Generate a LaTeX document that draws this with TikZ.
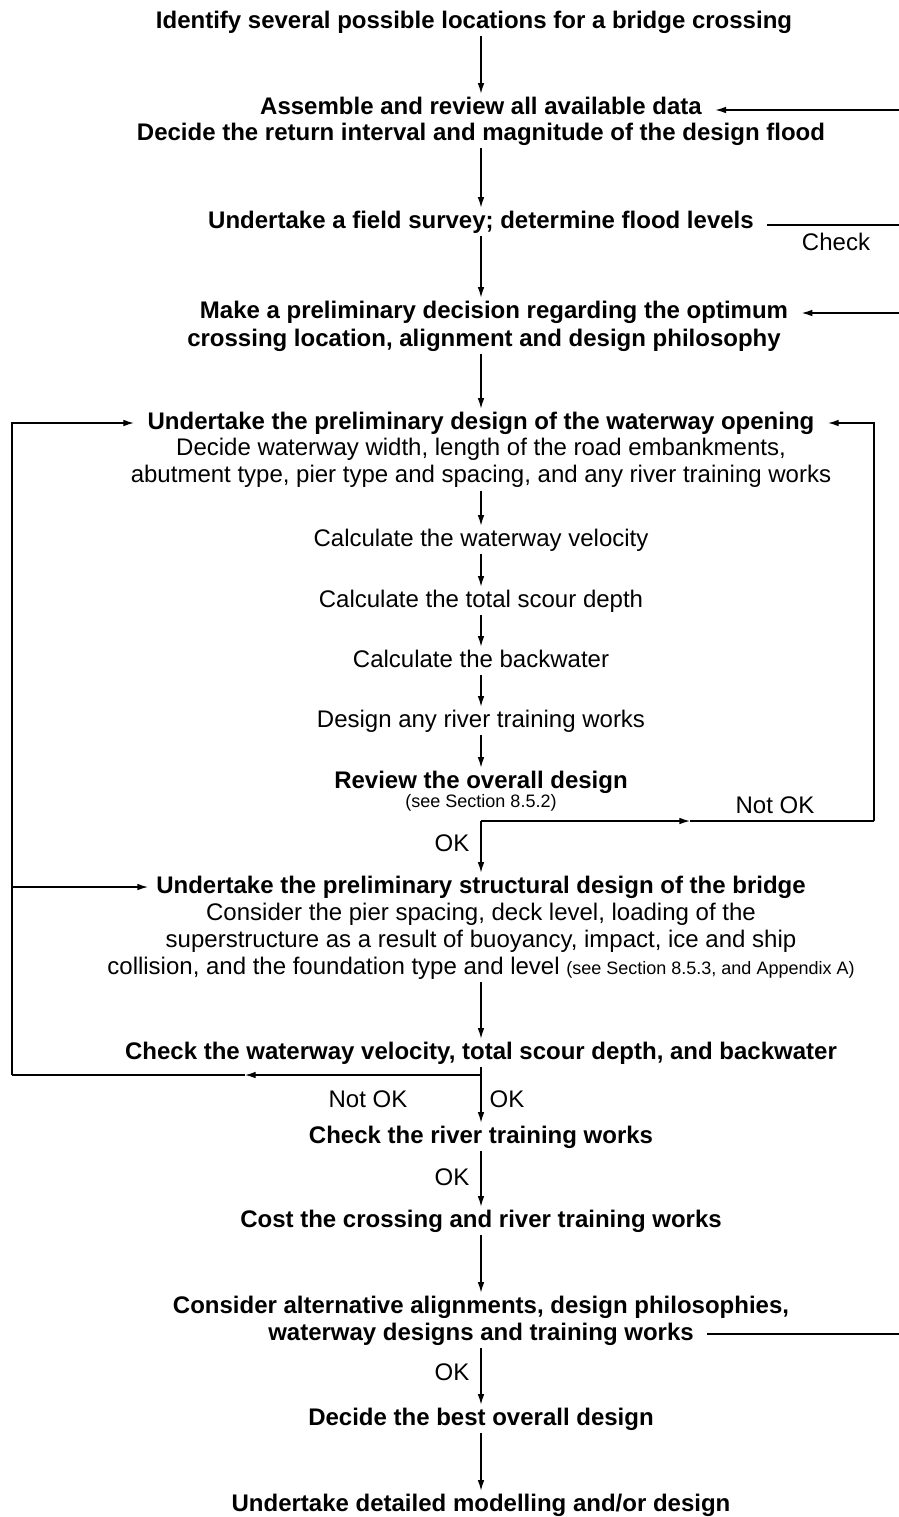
\documentclass[tikz,border=0pt]{standalone}
\usepackage{fontspec}
\setmainfont{Liberation Sans}
\usetikzlibrary{arrows.meta}

\begin{document}
\begin{tikzpicture}[x=0.75pt,y=0.75pt,yscale=-1,xscale=1,
  every node/.style={inner sep=2pt,align=center,font=\fontsize{18}{20.3}\selectfont},
  hd/.style={font=\fontsize{18}{20.3}\selectfont\bfseries},
  sm/.style={font=\fontsize{13.5}{15}\selectfont},
  one/.style={text height=13pt,text depth=4pt},
  flow/.style={line width=1pt,-{Latex[length=8pt,width=5pt]}},
  ln/.style={line width=1pt}]
\useasboundingbox (0,0) rectangle (899,1517);

% Text Node
\node[hd,one] (ident) at (474,22) {Identify several possible locations for a bridge crossing};
\node[hd,one] (assem) at (481,108) {Assemble and review all available data};
\node[hd,one] (decide) at (481,134) {Decide the return interval and magnitude of the design flood};
\node[hd,one] (survey) at (481,222) {Undertake a field survey; determine flood levels};
\node (check) at (836,242) {Check};
\node[hd,one] (prelim) at (494,312) {Make a preliminary decision regarding the optimum};
\node[hd,one] (philo) at (484,340) {crossing location, alignment and design philosophy};

% Text Node
\node[hd,one] (wtitle) at (481,423) {Undertake the preliminary design of the waterway opening};
\node (wdesc) at (481,463) {Decide waterway width, length of the road embankments,\\abutment type, pier type and spacing, and any river training works};
\node[one] (vel) at (481,540) {Calculate the waterway velocity};
\node[one] (scour) at (481,601) {Calculate the total scour depth};
\node[one] (back) at (481,661) {Calculate the backwater};
\node[one] (rtw) at (481,721) {Design any river training works};
\node[hd,one] (review) at (481,782) {Review the overall design};
\node[sm] (sec1) at (481,803) {(see Section 8.5.2)};
\node (nok1lab) at (775,805) {Not OK};
\node (ok1lab) at (452,843) {OK};

% Text Node
\node[hd,one] (stitle) at (481,887) {Undertake the preliminary structural design of the bridge};
\node (sdesc) at (481,941) {Consider the pier spacing, deck level, loading of the\\superstructure as a result of buoyancy, impact, ice and ship\\collision, and the foundation type and level {\fontsize{13.5}{15}\selectfont(see Section 8.5.3, and Appendix A)}};
\node[hd,one] (checkw) at (481,1053) {Check the waterway velocity, total scour depth, and backwater};
\node (nok2lab) at (368,1099) {Not OK};
\node (ok2lab) at (507,1099) {OK};
\node[hd,one] (checkr) at (481,1137) {Check the river training works};
\node (ok3lab) at (452,1177) {OK};
\node[hd,one] (cost) at (481,1221) {Cost the crossing and river training works};
\node[hd,one] (alt1) at (481,1307) {Consider alternative alignments, design philosophies,};
\node[hd,one] (alt2) at (481,1334) {waterway designs and training works};
\node (ok4lab) at (452,1372) {OK};
\node[hd,one] (best) at (481,1419) {Decide the best overall design};
\node[hd,one] (detail) at (481,1505) {Undertake detailed modelling and/or design};

% Corners
\coordinate (r1) at (899,110);
\coordinate (r2) at (899,225);
\coordinate (r3) at (899,313);
\coordinate (r4) at (899,1334);
\coordinate (ok1) at (481,821);
\coordinate (nok1) at (690,821);
\coordinate (rc) at (874,821);
\coordinate (fork) at (481,1075);
\coordinate (nok2) at (245,1075);
\coordinate (lc) at (12,1075);

% Straight Lines
\draw[flow] (ident.south -| assem.north) -- (assem.north);
\draw[flow] (decide) -- (survey);
\draw[flow] (survey.south) -- (survey.south |- prelim.north);
\draw[flow] (philo.south -| wtitle.north) -- (wtitle.north);
\draw[flow] (wdesc) -- (vel);
\draw[flow] (vel) -- (scour);
\draw[flow] (scour) -- (back);
\draw[flow] (back) -- (rtw);
\draw[flow] (rtw) -- (review);
\draw[flow] (ok1) -- (stitle);
\draw[flow] (sdesc) -- (checkw);
\draw[ln] (checkw) -- (fork);
\draw[flow] (fork) -- (checkr);
\draw[flow] (checkr) -- (cost);
\draw[flow] (cost) -- (alt1);
\draw[flow] (alt2) -- (best);
\draw[flow] (best) -- (detail);

% Side lines
\draw[flow,shorten >=8pt] (r1) -- (assem.east |- r1);
\draw[ln,shorten <=8pt] (survey.east |- r2) -- (r2);
\draw[flow,shorten >=8pt] (r3) -- (prelim.east |- r3);
\draw[ln,shorten <=8pt] (alt2.east) -- (r4);

% Loops
\draw[flow] (ok1) -- (nok1);
\draw[ln] (nok1) -- (rc);
\draw[flow,shorten >=8pt] (rc) |- (wtitle.east);
\draw[flow] (fork) -- (nok2);
\draw[ln] (nok2) -- (lc);
\draw[flow,shorten >=8pt] (lc) |- (wtitle.west);
\draw[flow,shorten >=4pt] (lc |- stitle.west) -- (stitle.west);

\end{tikzpicture}
\end{document}
